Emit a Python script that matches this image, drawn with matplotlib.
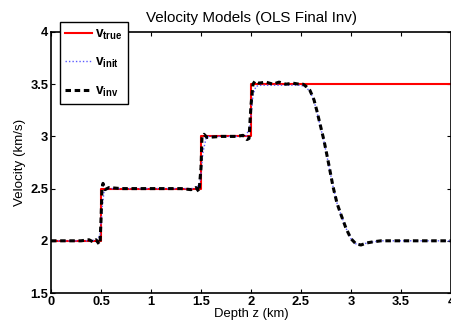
import matplotlib
matplotlib.use("Agg")
import matplotlib.pyplot as plt

plt.rcParams['font.family'] = ['Liberation Sans', 'DejaVu Sans']
plt.rcParams['mathtext.fontset'] = 'custom'
plt.rcParams['mathtext.rm'] = 'Liberation Sans'
plt.rcParams['mathtext.bf'] = 'Liberation Sans:bold'

# True layered model (km, km/s)
depth_true = [0.0, 0.5, 0.5, 1.5, 1.5, 2.0, 2.0, 4.0]
vel_true = [2.0, 2.0, 2.5, 2.5, 3.0, 3.0, 3.5, 3.5]

# Initial model
depth_init = [0.00, 0.20, 0.40, 0.46, 0.49, 0.51, 0.53, 0.56, 0.80, 1.10, 1.45,
              1.49, 1.52, 1.55, 1.58, 1.75, 1.95, 1.99, 2.02, 2.05, 2.10, 2.30,
              2.50, 2.55, 2.59, 2.63, 2.66, 2.70, 2.73, 2.77, 2.82, 2.86, 2.90,
              2.95, 3.00, 3.05, 3.10, 3.16, 3.22, 3.30, 3.60, 4.00]
vel_init = [2.00, 2.00, 2.00, 2.01, 2.05, 2.30, 2.47, 2.50, 2.50, 2.50, 2.50,
            2.55, 2.85, 2.98, 3.00, 3.00, 3.00, 3.10, 3.40, 3.48, 3.49, 3.49,
            3.49, 3.47, 3.43, 3.34, 3.23, 3.07, 2.95, 2.76, 2.52, 2.36, 2.25,
            2.12, 2.02, 1.97, 1.96, 1.98, 1.99, 2.00, 2.00, 2.00]

# Final inverted model
depth_inv = [0.00, 0.10, 0.20, 0.30, 0.38, 0.42, 0.45, 0.48, 0.49, 0.50, 0.51,
             0.52, 0.54, 0.58, 0.70, 0.90, 1.10, 1.30, 1.40, 1.45, 1.48, 1.50,
             1.51, 1.53, 1.56, 1.70, 1.85, 1.92, 1.96, 1.98, 2.00, 2.02, 2.04,
             2.08, 2.15, 2.22, 2.28, 2.35, 2.42, 2.48, 2.52, 2.55, 2.59, 2.63,
             2.66, 2.70, 2.73, 2.77, 2.82, 2.86, 2.90, 2.95, 3.00, 3.05, 3.10,
             3.16, 3.22, 3.30, 3.60, 4.00]
vel_inv = [2.00, 2.00, 2.00, 2.00, 2.01, 1.99, 2.01, 1.97, 1.97, 2.20, 2.50,
           2.55, 2.49, 2.51, 2.50, 2.50, 2.50, 2.50, 2.49, 2.51, 2.47, 2.70,
           3.00, 3.02, 2.99, 3.00, 3.00, 3.01, 2.97, 2.98, 3.30, 3.50, 3.53,
           3.51, 3.52, 3.50, 3.52, 3.50, 3.51, 3.50, 3.50, 3.48, 3.44, 3.35,
           3.24, 3.08, 2.96, 2.77, 2.52, 2.36, 2.25, 2.12, 2.02, 1.97, 1.96,
           1.98, 1.99, 2.00, 2.00, 2.00]

x_ticks = [0, 0.5, 1, 1.5, 2, 2.5, 3, 3.5, 4]
x_tick_labels = ['0', '0.5', '1', '1.5', '2', '2.5', '3', '3.5', '4']
y_ticks = [1.5, 2, 2.5, 3, 3.5, 4]
y_tick_labels = ['1.5', '2', '2.5', '3', '3.5', '4']

fig = plt.figure(figsize=(4.51, 3.29), dpi=100)
ax = fig.add_axes([51 / 451, 36 / 329, 400 / 451, 261 / 329])

ax.plot(depth_true, vel_true, color='#ff0000', lw=1.5, label=r'$\mathbf{v_{true}}$')
ax.plot(depth_init, vel_init, color='#5a5aff', lw=1.0, linestyle=(0, (1, 1.5)),
        label=r'$\mathbf{v_{init}}$')
ax.plot(depth_inv, vel_inv, color='black', lw=2.2, linestyle=(0, (1.8, 1.2)),
        label=r'$\mathbf{v_{inv}}$')

ax.set_xlim(0, 4)
ax.set_ylim(1.5, 4)
ax.set_xticks(x_ticks)
ax.set_xticklabels(x_tick_labels, fontweight='bold', fontsize=9.3)
ax.set_yticks(y_ticks)
ax.set_yticklabels(y_tick_labels, fontweight='bold', fontsize=9.3)
ax.tick_params(direction='in', length=3, width=0.8, top=True, right=True, pad=2)
for s in ax.spines.values():
    s.set_linewidth(1.2)

ax.set_title('Velocity Models (OLS Final Inv)', fontsize=10.9, pad=7)
ax.set_xlabel('Depth z (km)', fontsize=9.4, labelpad=0)
ax.set_ylabel('Velocity (km/s)', fontsize=9.6, labelpad=3)

leg = ax.legend(loc='upper left', bbox_to_anchor=(60 / 451, 1 - 22 / 329),
                bbox_transform=fig.transFigure, borderaxespad=0,
                fancybox=False, framealpha=1, edgecolor='black', fontsize=9.8,
                handlelength=2.0, handletextpad=0.25, labelspacing=0.95,
                borderpad=0.35)
leg.get_frame().set_linewidth(1.0)

fig.savefig('out.png', dpi=100)
